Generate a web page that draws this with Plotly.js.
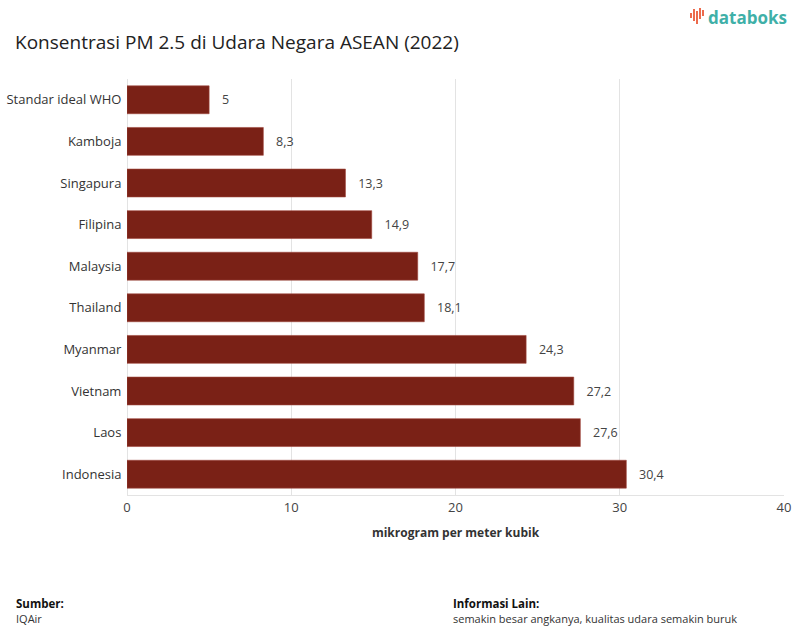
<!DOCTYPE html>
<html>
<head>
<meta charset="utf-8">
<script src="https://cdn.plot.ly/plotly-3.0.1.min.js"></script>
<style>html,body{margin:0;padding:0;background:#fff;}#chart{width:792px;height:627px;}</style>
</head>
<body>
<div id="chart"></div>
<script>
const categories = ["Standar ideal WHO","Kamboja","Singapura","Filipina","Malaysia","Thailand","Myanmar","Vietnam","Laos","Indonesia"];
const values = [5, 8.3, 13.3, 14.9, 17.7, 18.1, 24.3, 27.2, 27.6, 30.4];
const xTicks = [0, 10, 20, 30, 40];

const W = 792, H = 627;
const margin = {l: 127, r: 8, t: 79, b: 132};
const pw = W - margin.l - margin.r, ph = H - margin.t - margin.b;
function px(x){ return (x - margin.l) / pw; }
function py(y){ return 1 - (y - margin.t) / ph; }

const font = "'Open Sans', 'Noto Sans', sans-serif";

const trace = {
  type: 'bar',
  orientation: 'h',
  x: values,
  y: categories,
  marker: {color: '#7a2116', line: {color: '#a0473c', width: 0.6}},
  text: values.map(v => '\u00a0\u00a0\u00a0' + String(v).replace('.', ',')),
  textposition: 'outside',
  textfont: {family: font, size: 12.5, color: '#444'},
  cliponaxis: false,
  hoverinfo: 'none'
};

// logo icon bars (decorative)
const iconBars = [[691,13,18],[694,9,21],[697,11,24],[700,8,19],[703,10,16]];
const shapes = iconBars.map(b => ({
  type: 'line', xref: 'paper', yref: 'paper',
  x0: px(b[0]), x1: px(b[0]), y0: py(b[1]), y1: py(b[2]),
  line: {color: '#ec6a4c', width: 2}
}));

const layout = {
  width: W, height: H,
  margin: margin,
  paper_bgcolor: '#fff', plot_bgcolor: '#fff',
  font: {family: font, color: '#333'},
  showlegend: false,
  bargap: 0.33,
  title: {text: 'Konsentrasi PM 2.5 di Udara Negara ASEAN (2022)', x: 0.019, xanchor: 'left', y: 0.933, yanchor: 'middle',
          font: {family: font, size: 19, color: '#222'}},
  xaxis: {
    range: [0, 40], tickvals: xTicks, ticktext: xTicks.map(String),
    showgrid: true, gridcolor: '#e3e3e3', gridwidth: 1,
    zeroline: true, zerolinecolor: '#e3e3e3',
    showline: true, linecolor: '#e3e3e3',
    ticks: '', tickfont: {family: font, size: 13, color: '#444'},
    title: {text: '<b>mikrogram per meter kubik</b>', font: {family: font, size: 12, color: '#333'}, standoff: 14},
    fixedrange: true
  },
  yaxis: {
    autorange: 'reversed',
    tickfont: {family: font, size: 13, color: '#333'},
    ticks: 'outside', ticklen: 2, tickcolor: 'rgba(0,0,0,0)',
    showgrid: false, fixedrange: true
  },
  shapes: shapes,
  annotations: [
    {text: '<b>databoks</b>', xref: 'paper', yref: 'paper', x: px(706), y: py(17), xanchor: 'left', yanchor: 'middle',
     showarrow: false, font: {family: font, size: 17, color: '#3fb0a8'}},
    {text: '<b>Sumber:</b>', xref: 'paper', yref: 'paper', x: px(14), y: py(603), xanchor: 'left', yanchor: 'middle',
     showarrow: false, font: {family: font, size: 11.5, color: '#111'}},
    {text: 'IQAir', xref: 'paper', yref: 'paper', x: px(14), y: py(618), xanchor: 'left', yanchor: 'middle',
     showarrow: false, font: {family: font, size: 11, color: '#333'}},
    {text: '<b>Informasi Lain:</b>', xref: 'paper', yref: 'paper', x: px(451), y: py(603), xanchor: 'left', yanchor: 'middle',
     showarrow: false, font: {family: font, size: 11.5, color: '#111'}},
    {text: 'semakin besar angkanya, kualitas udara semakin buruk', xref: 'paper', yref: 'paper', x: px(451), y: py(618), xanchor: 'left', yanchor: 'middle',
     showarrow: false, font: {family: font, size: 11, color: '#333'}}
  ]
};

Plotly.newPlot('chart', [trace], layout, {displayModeBar: false, staticPlot: true});
</script>
</body>
</html>
